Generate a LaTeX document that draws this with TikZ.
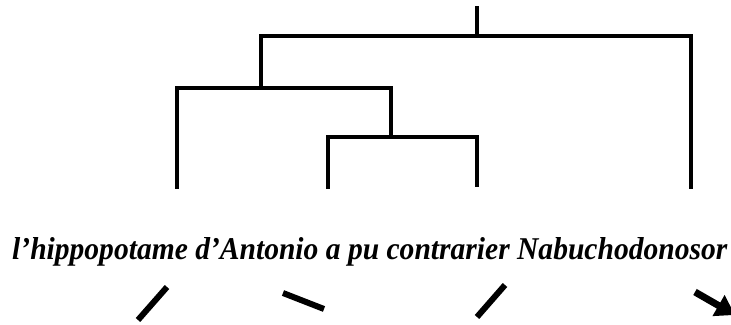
\documentclass[tikz,border=0pt]{standalone}
\usepackage{fontspec}
\setmainfont{Liberation Serif}
\usetikzlibrary{arrows.meta}
\begin{document}
\begin{tikzpicture}[x=1pt,y=-1pt,
  branch/.style={line width=3.6pt, line cap=rect, line join=miter},
  stroke/.style={line width=6pt, line cap=butt},
  label/.style={inner sep=0pt, anchor=base west}]
\useasboundingbox (0,0) rectangle (731,324);
% tree points
\coordinate (r) at (477,8);
\coordinate (a) at (477,36);
\coordinate (aL) at (261,36);
\coordinate (aR) at (691,36);
\coordinate (b) at (261,88);
\coordinate (bL) at (177,88);
\coordinate (bR) at (391,88);
\coordinate (c) at (391,137);
\coordinate (cL) at (328,137);
\coordinate (cR) at (477,137);
\coordinate (l1) at (177,187);
\coordinate (l2) at (328,187);
\coordinate (l3) at (477,185);
\coordinate (l4) at (691,187);
\draw[branch] (r) -- (a);
\draw[branch] (l4) -- (aR) -- (aL) -- (b);
\draw[branch] (l1) -- (bL) -- (bR) -- (c);
\draw[branch] (l2) -- (cL) -- (cR) -- (l3);
% sentence
\node[label] (sent) at (12,259) {\resizebox{715pt}{22pt}{\bfseries\itshape l’hippopotame d’Antonio a pu contrarier Nabuchodonosor}};
% marks
\coordinate (s1a) at (138,320); \coordinate (s1b) at (167,287);
\coordinate (s2a) at (283,293); \coordinate (s2b) at (324,309);
\coordinate (s3a) at (477,317); \coordinate (s3b) at (505,285);
\coordinate (s4a) at (695,292); \coordinate (s4b) at (735,315);
\draw[stroke] (s1a) -- (s1b);
\draw[stroke] (s2a) -- (s2b);
\draw[stroke] (s3a) -- (s3b);
\draw[line width=7pt, line cap=butt, -{Triangle[length=19pt,width=23pt]}] (s4a) -- (s4b);
\end{tikzpicture}
\end{document}
